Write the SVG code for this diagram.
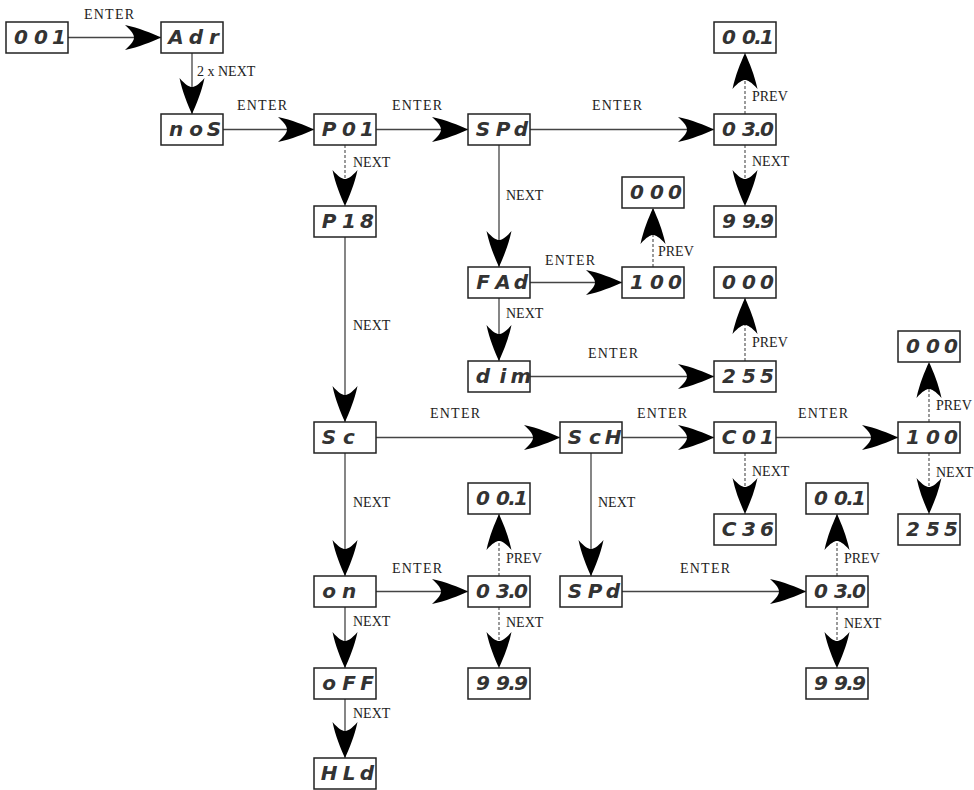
<svg xmlns="http://www.w3.org/2000/svg" width="974" height="790" viewBox="0 0 974 790">
<style>
.box{fill:#fff;stroke:#222;stroke-width:1.5}
.seg{font-family:"DejaVu Sans",sans-serif;font-weight:bold;font-style:italic;font-size:20px;fill:#333;text-anchor:middle}
.lbl{font-family:"Liberation Serif",serif;font-size:14px;fill:#222}
.c{fill:none;stroke:#444;stroke-width:1.3}
.d{stroke-dasharray:3,2;stroke:#666}
</style>
<defs>
<marker id="ah" markerUnits="userSpaceOnUse" markerWidth="40" markerHeight="26" refX="36" refY="12.5" orient="auto" overflow="visible">
<path d="M0,0 C14,3 26,8 36,12.5 C26,17 14,22 0,25 C7,19 9,15 9,12.5 C9,10 7,6 0,0 Z" style="fill:#000;stroke:none"/>
</marker>
</defs>
<rect width="974" height="790" fill="#fff"/>
<g id="connectors">
<path class="c" marker-end="url(#ah)" d="M68,37.5 H161"/>
<path class="c" marker-end="url(#ah)" d="M192,53 V114"/>
<path class="c" marker-end="url(#ah)" d="M223,129.5 H314"/>
<path class="c" marker-end="url(#ah)" d="M376,129.5 H468"/>
<path class="c" marker-end="url(#ah)" d="M530,129.5 H714"/>
<path class="c d" marker-end="url(#ah)" d="M745,114 V53"/>
<path class="c d" marker-end="url(#ah)" d="M745,145 V206"/>
<path class="c d" marker-end="url(#ah)" d="M345,145 V206"/>
<path class="c" marker-end="url(#ah)" d="M499,145 V267"/>
<path class="c" marker-end="url(#ah)" d="M530,282.5 H622"/>
<path class="c d" marker-end="url(#ah)" d="M653,267 V208"/>
<path class="c" marker-end="url(#ah)" d="M499,298 V361"/>
<path class="c" marker-end="url(#ah)" d="M530,376.5 H714"/>
<path class="c d" marker-end="url(#ah)" d="M745,361 V298"/>
<path class="c" marker-end="url(#ah)" d="M345,237 V422"/>
<path class="c" marker-end="url(#ah)" d="M376,437.5 H560"/>
<path class="c" marker-end="url(#ah)" d="M622,437.5 H714"/>
<path class="c" marker-end="url(#ah)" d="M776,437.5 H898"/>
<path class="c d" marker-end="url(#ah)" d="M929,422 V362"/>
<path class="c d" marker-end="url(#ah)" d="M929,453 V514"/>
<path class="c d" marker-end="url(#ah)" d="M745,453 V514"/>
<path class="c" marker-end="url(#ah)" d="M591,453 V576"/>
<path class="c" marker-end="url(#ah)" d="M622,591.5 H806"/>
<path class="c d" marker-end="url(#ah)" d="M837,576 V514"/>
<path class="c d" marker-end="url(#ah)" d="M837,607 V668"/>
<path class="c" marker-end="url(#ah)" d="M345,453 V576"/>
<path class="c" marker-end="url(#ah)" d="M376,591.5 H468"/>
<path class="c d" marker-end="url(#ah)" d="M499,576 V514"/>
<path class="c d" marker-end="url(#ah)" d="M499,607 V668"/>
<path class="c" marker-end="url(#ah)" d="M345,607 V668"/>
<path class="c" marker-end="url(#ah)" d="M345,699 V758"/>
<g id="labels">
<text class="lbl" x="84" y="19" textLength="50">ENTER</text>
<text class="lbl" x="197" y="76" font-size="13">2 x NEXT</text>
<text class="lbl" x="237" y="110" textLength="50">ENTER</text>
<text class="lbl" x="392" y="110" textLength="50">ENTER</text>
<text class="lbl" x="592" y="110" textLength="50">ENTER</text>
<text class="lbl" x="752" y="101">PREV</text>
<text class="lbl" x="752" y="166">NEXT</text>
<text class="lbl" x="353" y="167">NEXT</text>
<text class="lbl" x="506" y="200">NEXT</text>
<text class="lbl" x="545" y="265" textLength="50">ENTER</text>
<text class="lbl" x="658" y="256">PREV</text>
<text class="lbl" x="506" y="318">NEXT</text>
<text class="lbl" x="588" y="358" textLength="50">ENTER</text>
<text class="lbl" x="752" y="347">PREV</text>
<text class="lbl" x="353" y="330">NEXT</text>
<text class="lbl" x="430" y="418" textLength="50">ENTER</text>
<text class="lbl" x="637" y="418" textLength="50">ENTER</text>
<text class="lbl" x="798" y="418" textLength="50">ENTER</text>
<text class="lbl" x="936" y="410">PREV</text>
<text class="lbl" x="936" y="477">NEXT</text>
<text class="lbl" x="752" y="476">NEXT</text>
<text class="lbl" x="598" y="507">NEXT</text>
<text class="lbl" x="680" y="573" textLength="50">ENTER</text>
<text class="lbl" x="844" y="563">PREV</text>
<text class="lbl" x="844" y="628">NEXT</text>
<text class="lbl" x="353" y="507">NEXT</text>
<text class="lbl" x="392" y="573" textLength="50">ENTER</text>
<text class="lbl" x="506" y="563">PREV</text>
<text class="lbl" x="506" y="627">NEXT</text>
<text class="lbl" x="353" y="626">NEXT</text>
<text class="lbl" x="353" y="718">NEXT</text>
</g>
</g>
<g id="n001"><rect class="box" x="6" y="22" width="62" height="31"/><text class="seg" x="21 41 59" y="43.5">001</text></g>
<g id="nAdr"><rect class="box" x="161" y="22" width="62" height="31"/><text class="seg" x="176 196 214" y="43.5">Adr</text></g>
<g id="nnoS"><rect class="box" x="161" y="114" width="62" height="31"/><text class="seg" x="176 196 214" y="135.5">noS</text></g>
<g id="nP01"><rect class="box" x="314" y="114" width="62" height="31"/><text class="seg" x="329 349 367" y="135.5">P01</text></g>
<g id="nSPd1"><rect class="box" x="468" y="114" width="62" height="31"/><text class="seg" x="483 503 521" y="135.5">SPd</text></g>
<g id="n030a"><rect class="box" x="714" y="114" width="62" height="31"/><text class="seg" x="729 749 758 767" y="135.5">03.0</text></g>
<g id="n001a"><rect class="box" x="714" y="22" width="62" height="31"/><text class="seg" x="729 749 758 767" y="43.5">00.1</text></g>
<g id="n999a"><rect class="box" x="714" y="206" width="62" height="31"/><text class="seg" x="729 749 758 767" y="227.5">99.9</text></g>
<g id="nP18"><rect class="box" x="314" y="206" width="62" height="31"/><text class="seg" x="329 349 367" y="227.5">P18</text></g>
<g id="nFAd"><rect class="box" x="468" y="267" width="62" height="31"/><text class="seg" x="483 503 521" y="288.5">FAd</text></g>
<g id="n100a"><rect class="box" x="622" y="267" width="62" height="31"/><text class="seg" x="637 657 675" y="288.5">100</text></g>
<g id="n000a"><rect class="box" x="622" y="177" width="62" height="31"/><text class="seg" x="637 657 675" y="198.5">000</text></g>
<g id="ndim"><rect class="box" x="468" y="361" width="62" height="31"/><text class="seg" x="483 503 521" y="382.5">dim</text></g>
<g id="n255a"><rect class="box" x="714" y="361" width="62" height="31"/><text class="seg" x="729 749 767" y="382.5">255</text></g>
<g id="n000b"><rect class="box" x="714" y="267" width="62" height="31"/><text class="seg" x="729 749 767" y="288.5">000</text></g>
<g id="nSc"><rect class="box" x="314" y="422" width="62" height="31"/><text class="seg" x="329 349" y="443.5">Sc</text></g>
<g id="nScH"><rect class="box" x="560" y="422" width="62" height="31"/><text class="seg" x="575 595 613" y="443.5">ScH</text></g>
<g id="nC01"><rect class="box" x="714" y="422" width="62" height="31"/><text class="seg" x="729 749 767" y="443.5">C01</text></g>
<g id="n100b"><rect class="box" x="898" y="422" width="62" height="31"/><text class="seg" x="913 933 951" y="443.5">100</text></g>
<g id="n000c"><rect class="box" x="898" y="331" width="62" height="31"/><text class="seg" x="913 933 951" y="352.5">000</text></g>
<g id="nC36"><rect class="box" x="714" y="514" width="62" height="31"/><text class="seg" x="729 749 767" y="535.5">C36</text></g>
<g id="n255b"><rect class="box" x="898" y="514" width="62" height="31"/><text class="seg" x="913 933 951" y="535.5">255</text></g>
<g id="non"><rect class="box" x="314" y="576" width="62" height="31"/><text class="seg" x="329 349" y="597.5">on</text></g>
<g id="n030b"><rect class="box" x="468" y="576" width="62" height="31"/><text class="seg" x="483 503 512 521" y="597.5">03.0</text></g>
<g id="n001b"><rect class="box" x="468" y="483" width="62" height="31"/><text class="seg" x="483 503 512 521" y="504.5">00.1</text></g>
<g id="n999b"><rect class="box" x="468" y="668" width="62" height="31"/><text class="seg" x="483 503 512 521" y="689.5">99.9</text></g>
<g id="nSPd2"><rect class="box" x="560" y="576" width="62" height="31"/><text class="seg" x="575 595 613" y="597.5">SPd</text></g>
<g id="n030c"><rect class="box" x="806" y="576" width="62" height="31"/><text class="seg" x="821 841 850 859" y="597.5">03.0</text></g>
<g id="n001c"><rect class="box" x="806" y="483" width="62" height="31"/><text class="seg" x="821 841 850 859" y="504.5">00.1</text></g>
<g id="n999c"><rect class="box" x="806" y="668" width="62" height="31"/><text class="seg" x="821 841 850 859" y="689.5">99.9</text></g>
<g id="noFF"><rect class="box" x="314" y="668" width="62" height="31"/><text class="seg" x="329 349 367" y="689.5">oFF</text></g>
<g id="nHLd"><rect class="box" x="314" y="758" width="62" height="31"/><text class="seg" x="329 349 367" y="779.5">HLd</text></g>
</svg>
